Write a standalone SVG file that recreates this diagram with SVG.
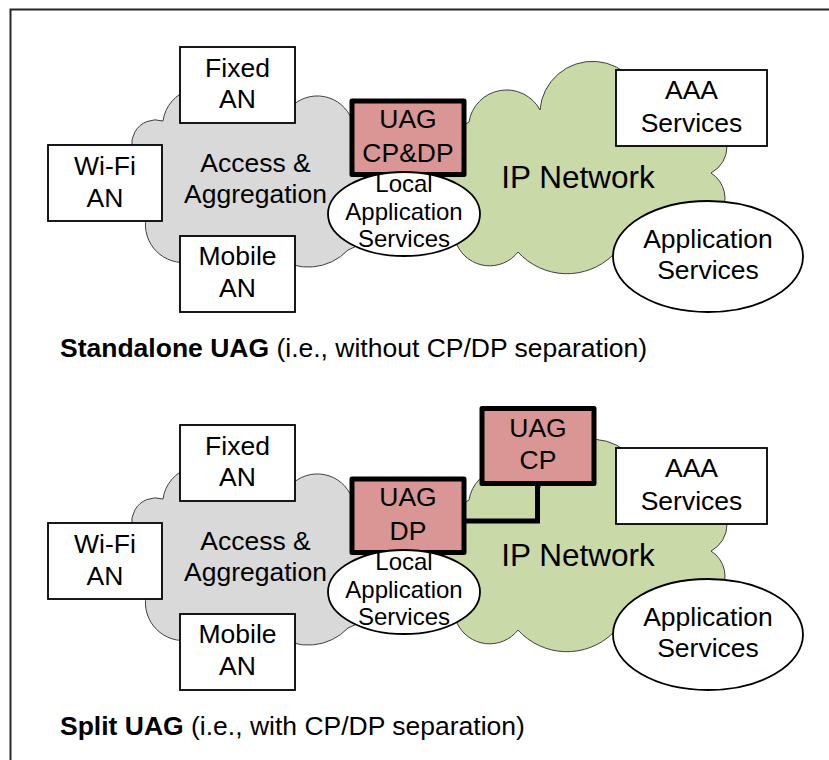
<svg xmlns="http://www.w3.org/2000/svg" width="829" height="760" viewBox="0 0 829 760">
<defs>
<style>
text{font-family:"Liberation Sans",Arial,sans-serif;fill:#000;text-anchor:middle;font-size:26.5px}
.box{fill:#fff;stroke:#000;stroke-width:1.8}
.uag{fill:#d99694;stroke:#000;stroke-width:5;stroke-linejoin:round}
.ell{fill:#fff;stroke:#000;stroke-width:1.8}
.gray{fill:#d9d9d9;stroke:#404040;stroke-width:1}
.green{fill:#c9d9a8;stroke:#404040;stroke-width:1}
.small{font-size:24px}
.big{font-size:31.5px}
.cap{text-anchor:start;font-size:26.5px}
.conn{fill:none;stroke:#000;stroke-width:5;stroke-linejoin:miter}
</style>
</defs>
<rect x="0" y="0" width="829" height="760" fill="#fff"/>
<path d="M10.5 760 V9.5 H829" fill="none" stroke="#262626" stroke-width="2"/>

<g id="top">
<g id="t-access-cloud">
<path class="gray" d="M140 162 A24 24 0 0 1 163 121 A38 38 0 0 1 230 102 A35 35 0 0 1 290 108 A37 37 0 0 1 352 120 A70 70 0 0 1 348 250 A55 55 0 0 1 275 256 A40 40 0 0 1 190 262 A38 38 0 0 1 146 218 A40 40 0 0 1 140 162 Z"/>
<text x="255.5" y="171.5">Access &amp;</text>
<text x="255.5" y="203.3">Aggregation</text>
</g>
<g id="t-ip-cloud">
<path class="green" d="M469 122 A38 38 0 0 1 540 110 A44 44 0 0 1 645 118 A45 45 0 0 1 727 146 A30 30 0 0 1 711 173 A30 30 0 0 1 720 215 A60 60 0 0 1 613 255 A66 66 0 0 1 518 252 A36 36 0 0 1 457 245 A75 75 0 0 1 469 122 Z"/>
<text class="big" x="578" y="188">IP Network</text>
</g>
<g id="t-fixed-an"><rect class="box" x="180" y="47" width="115" height="76"/><text x="237.5" y="76.7">Fixed</text><text x="237.5" y="108.3">AN</text></g>
<g id="t-wifi-an"><rect class="box" x="48" y="145" width="114" height="76"/><text x="105" y="175">Wi-Fi</text><text x="105" y="206.7">AN</text></g>
<g id="t-mobile-an"><rect class="box" x="180" y="236" width="115" height="76"/><text x="237.5" y="265">Mobile</text><text x="237.5" y="296.7">AN</text></g>
<g id="t-uag"><rect class="uag" x="352" y="101" width="112" height="73.5"/><text x="408" y="128.3">UAG</text><text x="408" y="161.7">CP&amp;DP</text></g>
<g id="t-local"><ellipse class="ell" cx="404" cy="214" rx="76" ry="42"/><text class="small" x="404" y="191.7">Local</text><text class="small" x="404" y="220">Application</text><text class="small" x="404" y="246.7">Services</text></g>
<g id="t-aaa"><rect class="box" x="616" y="70" width="151" height="76"/><text x="691.5" y="99.3">AAA</text><text x="691.5" y="131.7">Services</text></g>
<g id="t-app"><ellipse class="ell" cx="708" cy="256.5" rx="95" ry="55.5"/><text x="708" y="248">Application</text><text x="708" y="279">Services</text></g>
<text class="cap" x="60" y="357"><tspan font-weight="bold">Standalone UAG</tspan> (i.e., without CP/DP separation)</text>
</g>

<g id="bottom">
<g transform="translate(0,378)">
<g id="b-access-cloud">
<path class="gray" d="M140 162 A24 24 0 0 1 163 121 A38 38 0 0 1 230 102 A35 35 0 0 1 290 108 A37 37 0 0 1 352 120 A70 70 0 0 1 348 250 A55 55 0 0 1 275 256 A40 40 0 0 1 190 262 A38 38 0 0 1 146 218 A40 40 0 0 1 140 162 Z"/>
<text x="255.5" y="171.5">Access &amp;</text>
<text x="255.5" y="203.3">Aggregation</text>
</g>
<g id="b-ip-cloud">
<path class="green" d="M469 122 A38 38 0 0 1 540 110 A44 44 0 0 1 645 118 A45 45 0 0 1 727 146 A30 30 0 0 1 711 173 A30 30 0 0 1 720 215 A60 60 0 0 1 613 255 A66 66 0 0 1 518 252 A36 36 0 0 1 457 245 A75 75 0 0 1 469 122 Z"/>
<text class="big" x="578" y="188">IP Network</text>
</g>
</g>
<g id="connectors"><path class="conn" d="M537.5 483 V521 H464"/></g>
<g transform="translate(0,378)">
<g id="b-fixed-an"><rect class="box" x="180" y="47" width="115" height="76"/><text x="237.5" y="76.7">Fixed</text><text x="237.5" y="108.3">AN</text></g>
<g id="b-wifi-an"><rect class="box" x="48" y="145" width="114" height="76"/><text x="105" y="175">Wi-Fi</text><text x="105" y="206.7">AN</text></g>
<g id="b-mobile-an"><rect class="box" x="180" y="236" width="115" height="76"/><text x="237.5" y="265">Mobile</text><text x="237.5" y="296.7">AN</text></g>
<g id="b-uag-dp"><rect class="uag" x="352" y="101" width="112" height="73.5"/><text x="408" y="128.3">UAG</text><text x="408" y="161.7">DP</text></g>
<g id="b-local"><ellipse class="ell" cx="404" cy="214" rx="76" ry="42"/><text class="small" x="404" y="191.7">Local</text><text class="small" x="404" y="220">Application</text><text class="small" x="404" y="246.7">Services</text></g>
<g id="b-aaa"><rect class="box" x="616" y="70" width="151" height="76"/><text x="691.5" y="99.3">AAA</text><text x="691.5" y="131.7">Services</text></g>
<g id="b-app"><ellipse class="ell" cx="708" cy="256.5" rx="95" ry="55.5"/><text x="708" y="248">Application</text><text x="708" y="279">Services</text></g>
</g>
<g id="b-uag-cp"><rect class="uag" x="482" y="408.5" width="112" height="75"/><text x="538" y="437">UAG</text><text x="538" y="469">CP</text></g>
<text class="cap" x="60" y="735"><tspan font-weight="bold">Split UAG</tspan> (i.e., with CP/DP separation)</text>
</g>
</svg>
